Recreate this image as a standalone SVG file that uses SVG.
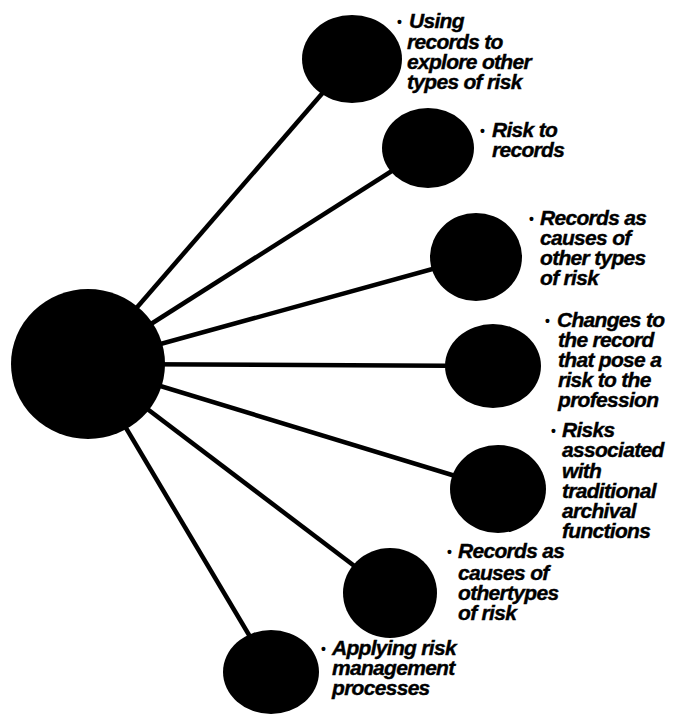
<svg xmlns="http://www.w3.org/2000/svg" width="676" height="716" viewBox="0 0 676 716">
<style>
.n{fill:#000}
.c{stroke:#000;stroke-width:4.5;fill:none}
.t{font-family:"Liberation Sans",Arial,sans-serif;font-size:21px;font-weight:bold;font-style:italic;fill:#000;stroke:#000;stroke-width:0.4;letter-spacing:-0.7px}
.b{font-family:"Liberation Sans",Arial,sans-serif;font-size:14px;font-weight:bold;fill:#000}
</style>
<rect width="676" height="716" fill="#fff"/>
<g id="connectors">
<line class="c" x1="88" y1="364" x2="352" y2="59"/>
<line class="c" x1="88" y1="364" x2="428" y2="148"/>
<line class="c" x1="88" y1="364" x2="476" y2="257"/>
<line class="c" x1="88" y1="364" x2="493" y2="366"/>
<line class="c" x1="88" y1="364" x2="498" y2="489"/>
<line class="c" x1="88" y1="364" x2="390" y2="593"/>
<line class="c" x1="88" y1="364" x2="271" y2="672"/>
</g>
<g id="center"><ellipse class="n" cx="88" cy="364" rx="77" ry="75"/></g>
<g id="n1">
<ellipse class="n" cx="352" cy="59" rx="50" ry="44"/>
<text class="b" x="397" y="27">•</text>
<text class="t"><tspan x="409" y="28">Using</tspan><tspan x="407" y="49">records to</tspan><tspan x="407" y="69">explore other</tspan><tspan x="407" y="89">types of risk</tspan></text>
</g>
<g id="n2">
<ellipse class="n" cx="428" cy="148" rx="46" ry="40"/>
<text class="b" x="480" y="136">•</text>
<text class="t"><tspan x="492" y="137">Risk to</tspan><tspan x="492" y="157">records</tspan></text>
</g>
<g id="n3">
<ellipse class="n" cx="476" cy="257" rx="46" ry="44"/>
<text class="b" x="529" y="224">•</text>
<text class="t"><tspan x="540" y="225">Records as</tspan><tspan x="540" y="245">causes of</tspan><tspan x="540" y="265">other types</tspan><tspan x="540" y="285">of risk</tspan></text>
</g>
<g id="n4">
<ellipse class="n" cx="493" cy="366" rx="48" ry="42"/>
<text class="b" x="545" y="326">•</text>
<text class="t"><tspan x="557" y="327">Changes to</tspan><tspan x="558" y="347">the record</tspan><tspan x="558" y="367">that pose a</tspan><tspan x="558" y="387">risk to the</tspan><tspan x="558" y="407">profession</tspan></text>
</g>
<g id="n5">
<ellipse class="n" cx="498" cy="489" rx="48" ry="44"/>
<text class="b" x="551" y="436">•</text>
<text class="t"><tspan x="562" y="437">Risks</tspan><tspan x="562" y="457">associated</tspan><tspan x="562" y="478">with</tspan><tspan x="562" y="498">traditional</tspan><tspan x="562" y="518">archival</tspan><tspan x="562" y="538">functions</tspan></text>
</g>
<g id="n6">
<ellipse class="n" cx="390" cy="593" rx="47" ry="45"/>
<text class="b" x="447" y="557">•</text>
<text class="t"><tspan x="458" y="558">Records as</tspan><tspan x="458" y="580">causes of</tspan><tspan x="458" y="600">othertypes</tspan><tspan x="458" y="620">of risk</tspan></text>
</g>
<g id="n7">
<ellipse class="n" cx="271" cy="672" rx="48" ry="42"/>
<text class="b" x="321" y="654">•</text>
<text class="t"><tspan x="332" y="655">Applying risk</tspan><tspan x="332" y="675">management</tspan><tspan x="332" y="695">processes</tspan></text>
</g>
</svg>
